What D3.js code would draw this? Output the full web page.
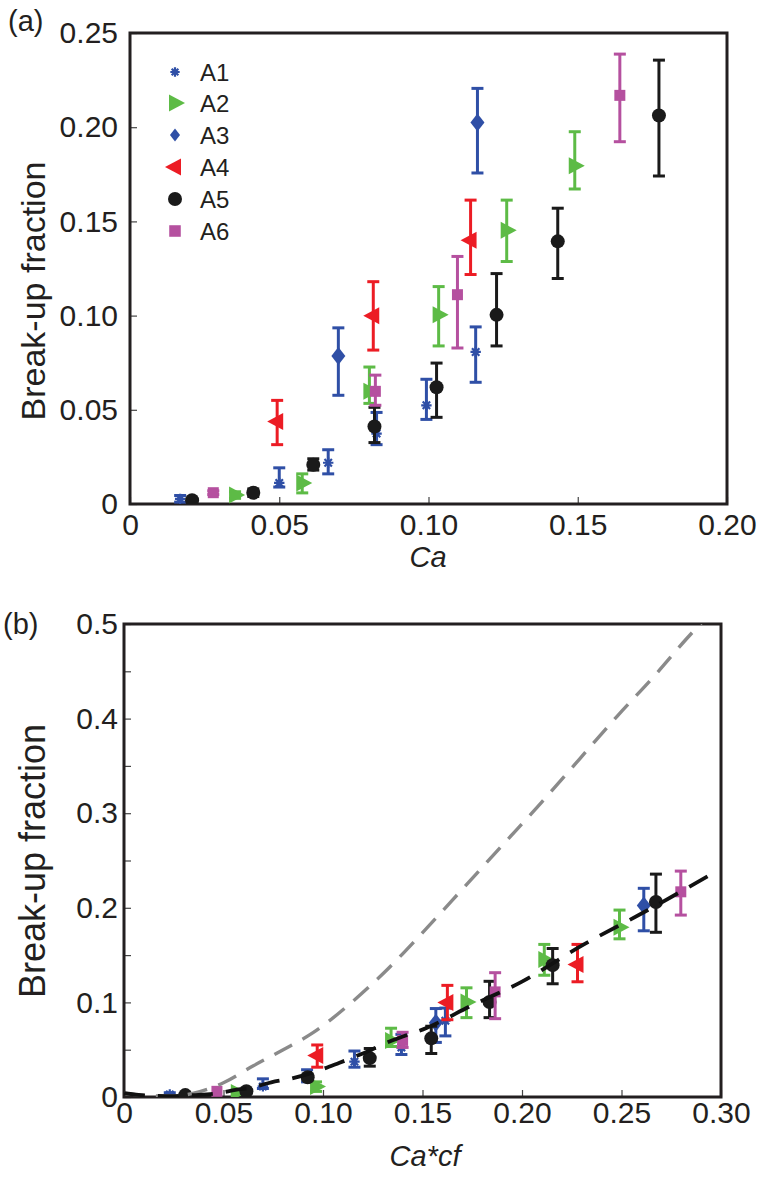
<!DOCTYPE html>
<html><head><meta charset="utf-8">
<script src="https://cdn.jsdelivr.net/npm/d3@7"></script>
<style>
body{margin:0;background:#fff}
svg{display:block}
text{font-family:"Liberation Sans",Arial,Helvetica,sans-serif;fill:#231f20}
</style>
</head><body>
<svg id="c" width="760" height="1180"></svg>
<script>
// ---------------- data ----------------
const seriesNames = ["A1","A2","A3","A4","A5","A6"];
const seriesColors = ["#2f4fa6","#5dbb46","#2f4fa6","#ec1c24","#1a1a1a","#b5509f"];
const seriesShapes = ["star","triR","diamond","triL","circle","square"];

// A1
const a1Ca   = [0.0168, 0.0500, 0.0664, 0.0826, 0.0993, 0.1158];
const a1CaCf = [0.0230, 0.0698, 0.0920, 0.1158, 0.1394, 0.1615];
const a1Y    = [0.0027, 0.0112, 0.0219, 0.0374, 0.0524, 0.0807];
const a1Lo   = [0.0010, 0.0090, 0.0160, 0.0315, 0.0449, 0.0646];
const a1Hi   = [0.0045, 0.0192, 0.0288, 0.0486, 0.0662, 0.0940];
// A2
const a2Ca   = [0.0352, 0.0577, 0.0802, 0.1034, 0.1262, 0.1490];
const a2CaCf = [0.0567, 0.0965, 0.1342, 0.1721, 0.2112, 0.2490];
const a2Y    = [0.0048, 0.0112, 0.0598, 0.1004, 0.1453, 0.1795];
const a2Lo   = [0.0030, 0.0059, 0.0534, 0.0839, 0.1287, 0.1672];
const a2Hi   = [0.0065, 0.0160, 0.0727, 0.1154, 0.1613, 0.1976];
// A3
const a3Ca   = [0.0698, 0.1164];
const a3CaCf = [0.1567, 0.2612];
const a3Y    = [0.0785, 0.2025];
const a3Lo   = [0.0577, 0.1757];
const a3Hi   = [0.0935, 0.2206];
// A4
const a4Ca   = [0.0493, 0.0815, 0.1141];
const a4CaCf = [0.0971, 0.1625, 0.2279];
const a4Y    = [0.0438, 0.0999, 0.1400];
const a4Lo   = [0.0315, 0.0817, 0.1218];
const a4Hi   = [0.0550, 0.1180, 0.1613];
// A5
const a5Ca   = [0.0208, 0.0413, 0.0614, 0.0819, 0.1027, 0.1228, 0.1433, 0.1772];
const a5CaCf = [0.0308, 0.0615, 0.0923, 0.1235, 0.1544, 0.1837, 0.2154, 0.2673];
const a5Y    = [0.0020, 0.0060, 0.0208, 0.0411, 0.0620, 0.1004, 0.1394, 0.2062];
const a5Lo   = [0.0010, 0.0040, 0.0180, 0.0326, 0.0460, 0.0839, 0.1197, 0.1741];
const a5Hi   = [0.0030, 0.0080, 0.0240, 0.0513, 0.0748, 0.1223, 0.1570, 0.2356];
// A6
const a6Ca   = [0.0279, 0.0822, 0.1097, 0.1641];
const a6CaCf = [0.0467, 0.1400, 0.1865, 0.2798];
const a6Y    = [0.0060, 0.0598, 0.1111, 0.2169];
const a6Lo   = [0.0050, 0.0524, 0.0828, 0.1923];
const a6Hi   = [0.0070, 0.0684, 0.1314, 0.2388];

// fitted curves in panel (b)
const fitX  = [0, 0.012, 0.025, 0.035, 0.047, 0.056, 0.065, 0.074, 0.085, 0.095, 0.108, 0.120, 0.135, 0.152, 0.175, 0.200, 0.230, 0.261, 0.296];
const fitY  = [0.004, 0.0015, 0.001, 0.002, 0.004, 0.0075, 0.0105, 0.0155, 0.020, 0.026, 0.036, 0.046, 0.060, 0.073, 0.097, 0.122, 0.160, 0.195, 0.2365];
const modelX = [0, 0.012, 0.025, 0.035, 0.050, 0.065, 0.080, 0.095, 0.1135, 0.1327, 0.1519, 0.1712, 0.1904, 0.2096, 0.2288, 0.2480, 0.2673, 0.2827, 0.2950];
const modelY = [0.004, 0.0015, 0.001, 0.004, 0.015, 0.033, 0.050, 0.068, 0.0984, 0.1356, 0.178, 0.2224, 0.2667, 0.311, 0.357, 0.403, 0.447, 0.4844, 0.512];

// ticks
const aXTicks = [0, 0.05, 0.10, 0.15, 0.20];
const aXLabels = ["0","0.05","0.10","0.15","0.20"];
const aYTicks = [0, 0.05, 0.10, 0.15, 0.20, 0.25];
const aYLabels = ["0","0.05","0.10","0.15","0.20","0.25"];
const bXTicks = [0, 0.05, 0.10, 0.15, 0.20, 0.25, 0.30];
const bXLabels = ["0","0.05","0.10","0.15","0.20","0.25","0.30"];
const bYTicks = [0, 0.05, 0.1, 0.15, 0.2, 0.25, 0.3, 0.35, 0.4, 0.45, 0.5];
const bYLabels = ["0","","0.1","","0.2","","0.3","","0.4","","0.5"];

// ---------------- build ----------------
const caLists   = [a1Ca, a2Ca, a3Ca, a4Ca, a5Ca, a6Ca];
const cacfLists = [a1CaCf, a2CaCf, a3CaCf, a4CaCf, a5CaCf, a6CaCf];
const yLists    = [a1Y, a2Y, a3Y, a4Y, a5Y, a6Y];
const loLists   = [a1Lo, a2Lo, a3Lo, a4Lo, a5Lo, a6Lo];
const hiLists   = [a1Hi, a2Hi, a3Hi, a4Hi, a5Hi, a6Hi];

function seriesFor(xLists){
  return seriesNames.map((n,i)=>({
    name:n, color:seriesColors[i], shape:seriesShapes[i],
    pts: xLists[i].map((xv,j)=>({x:xv, y:yLists[i][j], lo:loLists[i][j], hi:hiLists[i][j]}))
  }));
}

function shapePath(shape, s){
  s = s || 1;
  switch(shape){
    case "star": { const r=5.2*s, d=3.7*s;
      return `M0,${-r}V${r}M${-r},0H${r}M${-d},${-d}L${d},${d}M${-d},${d}L${d},${-d}`; }
    case "triR": return `M${-6*s},${-8.5*s}L${10*s},0L${-6*s},${8.5*s}Z`;
    case "triL": return `M${6*s},${-8.5*s}L${-10*s},0L${6*s},${8.5*s}Z`;
    case "diamond": return `M0,${-9*s}L${7*s},0L0,${9*s}L${-7*s},0Z`;
    case "circle": return d3.symbol(d3.symbolCircle, Math.PI*7*7*s*s)();
    case "square": return `M${-5.5*s},${-5.5*s}h${11*s}v${11*s}h${-11*s}Z`;
  }
}
function drawMarker(sel, shape, color, s){
  const p = sel.append("path").attr("d", shapePath(shape, s));
  if(shape==="star") p.attr("fill","none").attr("stroke",color).attr("stroke-width",2.2);
  else p.attr("fill",color);
  return p;
}

const svg = d3.select("#c");

function drawPanel(p){
  const g = svg.append("g");
  const x = d3.scaleLinear().domain(p.xDomain).range(p.xRange);
  const y = d3.scaleLinear().domain(p.yDomain).range(p.yRange);

  const clipId = "clip"+p.id;
  svg.append("clipPath").attr("id",clipId).append("rect")
    .attr("x",p.xRange[0]).attr("y",p.yRange[1])
    .attr("width",p.xRange[1]-p.xRange[0]).attr("height",p.yRange[0]-p.yRange[1]);

  const xAxis = d3.axisBottom(x).tickValues(p.xTicks).tickFormat((d,i)=>p.xLabels[i])
    .tickSizeInner(-7).tickSizeOuter(0).tickPadding(p.xPad);
  const gx = g.append("g").attr("transform",`translate(0,${p.yRange[0]})`).call(xAxis);
  const yAxis = d3.axisLeft(y).tickValues(p.yTicks).tickFormat((d,i)=>p.yLabels[i])
    .tickSizeInner(-7).tickSizeOuter(0).tickPadding(p.yPad);
  const gy = g.append("g").attr("transform",`translate(${p.xRange[0]},0)`).call(yAxis);
  [gx,gy].forEach(a=>{
    a.select(".domain").remove();
    a.selectAll(".tick line").attr("stroke","#444").attr("stroke-width",1.2);
    a.selectAll(".tick text").attr("font-size",30).attr("fill","#231f20")
      .attr("font-family",'"Liberation Sans",Arial,sans-serif');
  });

  // frame
  g.append("rect").attr("x",p.xRange[0]).attr("y",p.yRange[1])
    .attr("width",p.xRange[1]-p.xRange[0]).attr("height",p.yRange[0]-p.yRange[1])
    .attr("fill","none").attr("stroke","#231f20").attr("stroke-width",3);

  const plot = g.append("g").attr("clip-path",`url(#${clipId})`);

  // series
  p.series.forEach(s=>{
    const sg = plot.append("g");
    s.pts.forEach(d=>{
      const cx = x(d.x);
      if(y(d.lo)-y(d.hi) > 2){
        sg.append("line").attr("x1",cx).attr("x2",cx).attr("y1",y(d.lo)).attr("y2",y(d.hi))
          .attr("stroke",s.color).attr("stroke-width",3);
        [d.lo,d.hi].forEach(v=>{
          sg.append("line").attr("x1",cx-6).attr("x2",cx+6).attr("y1",y(v)).attr("y2",y(v))
            .attr("stroke",s.color).attr("stroke-width",3);
        });
      }
      drawMarker(sg.append("g").attr("transform",`translate(${cx},${y(d.y)})`), s.shape, s.color, 1);
    });
  });

  // curves
  (p.curves||[]).forEach(c=>{
    const data = c.xs.map((v,i)=>[v,c.ys[i]]);
    plot.append("path").datum(data)
      .attr("d", d3.line().x(d=>x(d[0])).y(d=>y(d[1])).curve(d3.curveMonotoneX))
      .attr("fill","none").attr("stroke",c.color).attr("stroke-width",c.width)
      .attr("stroke-dasharray",c.dash);
  });

  // x label
  g.append("text").attr("x",p.xLabelPos[0]).attr("y",p.xLabelPos[1]).attr("text-anchor","middle")
    .attr("font-size",29).attr("font-style","italic").text(p.xTitle);
  // y label
  g.append("text").attr("transform",`translate(${p.yLabelPos[0]},${p.yLabelPos[1]}) rotate(-90)`)
    .attr("text-anchor","middle").attr("font-size",p.yLabelSize).text("Break-up fraction");
  // panel tag
  g.append("text").attr("x",p.tagPos[0]).attr("y",p.tagPos[1]).attr("font-size",29).text(p.tag);

  return {g,x,y};
}

const A = drawPanel({
  id:"a", xDomain:[0,0.2], xRange:[130,727], yDomain:[0,0.25], yRange:[504,33],
  xTicks:aXTicks, xLabels:aXLabels, yTicks:aYTicks, yLabels:aYLabels, xPad:10, yPad:12,
  series: seriesFor(caLists), xTitle:"Ca", xLabelPos:[428,567], yLabelPos:[45,291], yLabelSize:34,
  tag:"(a)", tagPos:[8,31]
});

// legend (panel a)
const leg = A.g.append("g");
const legY = [72,103,135,167,199,231];
const legScale = [0.9, 1.0, 0.72, 1.0, 1.0, 1.05];
seriesNames.forEach((n,i)=>{
  const r = leg.append("g").attr("transform",`translate(175,${legY[i]})`);
  drawMarker(r, seriesShapes[i], seriesColors[i], legScale[i]);
  leg.append("text").attr("x",200).attr("y",legY[i]).attr("dy","0.36em")
    .attr("font-size",24).text(n);
});

const B = drawPanel({
  id:"b", xDomain:[0,0.3], xRange:[124,721], yDomain:[0,0.5], yRange:[1097,624],
  xTicks:bXTicks, xLabels:bXLabels, yTicks:bYTicks, yLabels:bYLabels, xPad:5, yPad:6,
  series: seriesFor(cacfLists), xTitle:"Ca*cf", xLabelPos:[425,1166], yLabelPos:[45,861], yLabelSize:36,
  tag:"(b)", tagPos:[3,634],
  curves:[
    {xs:modelX, ys:modelY, color:"#8a8a8a", width:3.4, dash:"20,12"},
    {xs:fitX, ys:fitY, color:"#111", width:3.8, dash:"21,13"}
  ]
});
</script>
</body></html>
